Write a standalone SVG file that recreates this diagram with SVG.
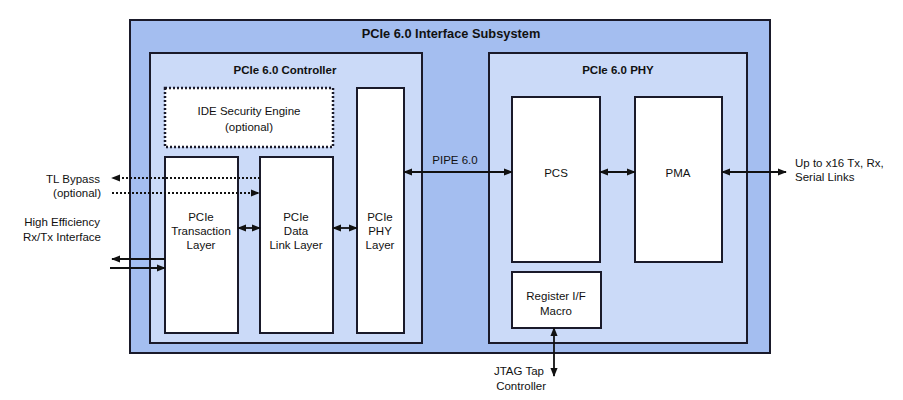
<svg xmlns="http://www.w3.org/2000/svg" width="903" height="400" viewBox="0 0 903 400">
<defs>
<marker id="ah" viewBox="0 0 10 10" refX="9" refY="5" markerWidth="9" markerHeight="9" markerUnits="userSpaceOnUse" orient="auto-start-reverse"><path d="M0,1 L10,5 L0,9 Z" fill="#111"/></marker>
</defs>
<style>
text{font-family:"Liberation Sans",Arial,sans-serif;fill:#111;font-size:11.5px;text-anchor:middle}
.b{font-weight:bold}
.outer{fill:#a4bef0;stroke:#1a1a2a;stroke-width:2}
.inner{fill:#cbdaf8;stroke:#1a1a2a;stroke-width:2}
.blk{fill:#fff;stroke:#1a1a2a;stroke-width:2}
.dot{fill:#fff;stroke:#1a1a2a;stroke-width:2.5;stroke-dasharray:2,2}
.ln{stroke:#111;stroke-width:1.8;fill:none}
.dl{stroke:#111;stroke-width:1.8;fill:none;stroke-dasharray:2,2}
</style>
<rect width="903" height="400" fill="#fff"/>
<g id="subsystem"><rect class="outer" x="130" y="20" width="640" height="333"/><text class="b" x="451" y="38" style="font-size:12.8px">PCIe 6.0 Interface Subsystem</text></g>
<g id="controller"><rect class="inner" x="150" y="53" width="272" height="290"/><text class="b" x="285" y="74">PCIe 6.0 Controller</text></g>
<g id="phy"><rect class="inner" x="489" y="53" width="258" height="290"/><text class="b" x="618" y="74">PCIe 6.0 PHY</text></g>
<g id="ide"><rect class="dot" x="165" y="88" width="168" height="59"/><text x="249" y="115">IDE Security Engine</text><text x="249" y="131">(optional)</text></g>
<g id="tl"><rect class="blk" x="165" y="157" width="73" height="176"/><text x="201" y="221">PCIe</text><text x="201" y="235">Transaction</text><text x="201" y="249">Layer</text></g>
<g id="dll"><rect class="blk" x="260" y="157" width="73" height="176"/><text x="296" y="221">PCIe</text><text x="296" y="235">Data</text><text x="296" y="249">Link Layer</text></g>
<g id="phylayer"><rect class="blk" x="357" y="88" width="47" height="245"/><text x="380" y="221">PCIe</text><text x="380" y="235">PHY</text><text x="380" y="249">Layer</text></g>
<g id="pcs"><rect class="blk" x="512" y="97" width="88" height="165"/><text x="556" y="177">PCS</text></g>
<g id="pma"><rect class="blk" x="635" y="97" width="87" height="165"/><text x="678" y="177">PMA</text></g>
<g id="reg"><rect class="blk" x="512" y="272" width="89" height="56"/><text x="556" y="300">Register I/F</text><text x="556" y="315">Macro</text></g>
<g id="labels">
<text x="100" y="183" style="text-anchor:end">TL Bypass</text>
<text x="101" y="197" style="text-anchor:end">(optional)</text>
<text x="100" y="226" style="text-anchor:end">High Efficiency</text>
<text x="101" y="241" style="text-anchor:end">Rx/Tx Interface</text>
<text x="795" y="167" style="text-anchor:start">Up to x16 Tx, Rx,</text>
<text x="795" y="181" style="text-anchor:start">Serial Links</text>
<text x="544" y="375" style="text-anchor:end">JTAG Tap</text>
<text x="546" y="390" style="text-anchor:end">Controller</text>
<text x="455" y="164">PIPE 6.0</text>
</g>
<g id="connectors">
<line class="ln" x1="404" y1="172" x2="512" y2="172" marker-start="url(#ah)" marker-end="url(#ah)"/>
<line class="ln" x1="600" y1="172" x2="635" y2="172" marker-start="url(#ah)" marker-end="url(#ah)"/>
<line class="ln" x1="722" y1="172" x2="786" y2="172" marker-start="url(#ah)" marker-end="url(#ah)"/>
<line class="ln" x1="238" y1="228" x2="260" y2="228" marker-start="url(#ah)" marker-end="url(#ah)"/>
<line class="ln" x1="333" y1="228" x2="357" y2="228" marker-start="url(#ah)" marker-end="url(#ah)"/>
<line class="dl" x1="260" y1="178" x2="112" y2="178" marker-end="url(#ah)"/>
<line class="dl" x1="112" y1="193" x2="259" y2="193" marker-end="url(#ah)"/>
<line class="ln" x1="165" y1="259" x2="112" y2="259" marker-end="url(#ah)"/>
<line class="ln" x1="110" y1="268" x2="165" y2="268" marker-end="url(#ah)"/>
<line class="ln" x1="554" y1="328" x2="554" y2="376" marker-start="url(#ah)" marker-end="url(#ah)"/>
</g>
</svg>
